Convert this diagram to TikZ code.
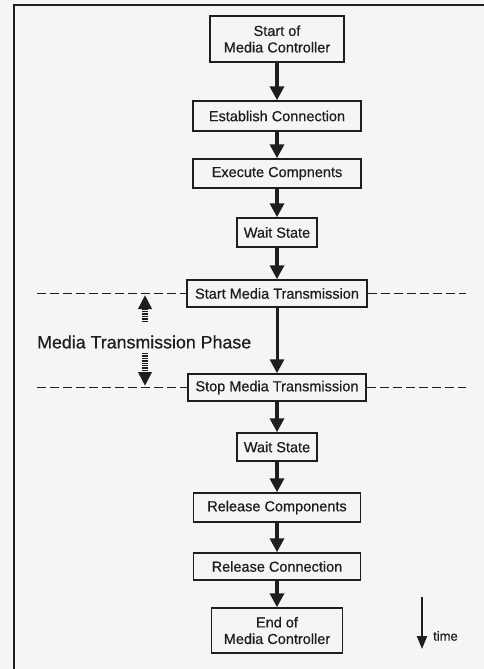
\documentclass[tikz,border=0pt]{standalone}
\usepackage{fontspec}
\setmainfont[FakeBold=0.6]{Liberation Sans}
\usetikzlibrary{arrows.meta}
\definecolor{ink}{HTML}{1E1E1E}
\definecolor{paper}{HTML}{F5F5F3}
\begin{document}
\begin{tikzpicture}[x=1pt,y=-1pt,
  stepbox/.style={draw=ink, line width=1.5pt, text=ink, inner sep=0pt, align=center,
    font=\fontsize{14.5}{16.5}\selectfont},
  flow/.style={draw=ink, line width=3.8pt, -{Triangle[width=14pt,length=14pt]}},
  phasearrow/.style={draw=ink, line width=5.5pt, dash pattern=on 1.4pt off 1pt,
    -{Triangle[width=13pt,length=14pt,sep=0pt]}},
  phaseline/.style={draw=ink, line width=1.7pt, dash pattern=on 9pt off 4pt},
  timearrow/.style={draw=ink, line width=2.2pt, -{Triangle[width=10pt,length=13pt]}},
  frameline/.style={draw=ink, line width=1.6pt}
]
% paper and page size
\fill[paper] (0,0) rectangle (484,669);
\useasboundingbox (0,0) rectangle (484,669);

% frame edges
\coordinate (fa) at (14,669);
\coordinate (fb) at (14,5);
\coordinate (fc) at (484,5);
\draw[frameline] (fa) -- (fb) -- (fc);

% process steps
\node[stepbox, minimum width=134pt, minimum height=46pt] (start) at (277,39) {Start of\\Media Controller};
\node[stepbox, minimum width=168pt, minimum height=30pt] (est) at (277,116) {Establish Connection};
\node[stepbox, minimum width=168pt, minimum height=29pt] (exec) at (277,173.5) {Execute Compnents};
\node[stepbox, minimum width=80pt, minimum height=29pt] (wait1) at (277,232.5) {Wait State};
\node[stepbox, minimum width=180pt, minimum height=27pt] (startmt) at (277,293.5) {Start Media Transmission};
\node[stepbox, minimum width=178pt, minimum height=27pt] (stopmt) at (277,387.5) {Stop Media Transmission};
\node[stepbox, minimum width=80pt, minimum height=28pt] (wait2) at (277,447) {Wait State};
\node[stepbox, minimum width=167pt, minimum height=29pt] (relcomp) at (277,507.5) {Release Components};
\node[stepbox, minimum width=167pt, minimum height=27pt] (relconn) at (277,566.5) {Release Connection};
\node[stepbox, minimum width=131pt, minimum height=45pt] (end) at (277,630.5) {End of\\Media Controller};

% control flow
\draw[flow] (start) -- (est);
\draw[flow] (est) -- (exec);
\draw[flow] (exec) -- (wait1);
\draw[flow] (wait1) -- (startmt);
\draw[flow, line width=3pt] (startmt) -- (stopmt);
\draw[flow] (stopmt) -- (wait2);
\draw[flow] (wait2) -- (relcomp);
\draw[flow] (relcomp) -- (relconn);
\draw[flow] (relconn) -- (end);

% phase boundaries
\coordinate (dl1) at (37,293.5);
\coordinate (dr1) at (466,293.5);
\coordinate (dl2) at (37,387.5);
\coordinate (dr2) at (466,387.5);
\draw[phaseline] (dl1) -- (startmt.west);
\draw[phaseline] (startmt.east) -- (dr1);
\draw[phaseline] (dl2) -- (stopmt.west);
\draw[phaseline] (stopmt.east) -- (dr2);

% phase extent
\node[anchor=west, text=ink, inner sep=0pt, font=\fontsize{17.8}{20}\selectfont] (phase) at (37,342) {Media Transmission Phase};
\coordinate (pu0) at (145,322);
\coordinate (pu1) at (145,295);
\coordinate (pd0) at (145,353);
\coordinate (pd1) at (145,386);
\draw[phasearrow] (pu0) -- (pu1);
\draw[phasearrow] (pd0) -- (pd1);

% time axis
\coordinate (t0) at (422,597);
\coordinate (t1) at (422,649);
\draw[timearrow] (t0) -- (t1);
\node[anchor=west, text=ink, inner sep=0pt, font=\fontsize{13}{15}\selectfont] (time) at (433,636) {time};
\end{tikzpicture}
\end{document}
